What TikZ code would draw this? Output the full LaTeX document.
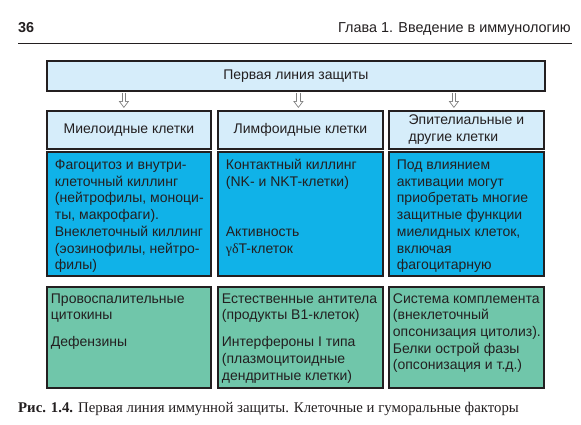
\documentclass[tikz,border=0pt]{standalone}
\usepackage{fontspec}
\setmainfont{Liberation Sans}
\newfontfamily\capfont{Liberation Serif}
\usetikzlibrary{arrows.meta,positioning}
\definecolor{paleblue}{HTML}{D6EDFA}
\definecolor{cellblue}{HTML}{10B2E8}
\definecolor{cellgreen}{HTML}{70C6AA}
\definecolor{inkdark}{HTML}{231F20}
% fixed-size cell, lines set by hand, top aligned
\newcommand{\cellpar}[3]{\parbox[c][#2][t]{#1}{\begin{tabular}[t]{@{}l@{}}#3\end{tabular}}}
\tikzset{
  headbox/.style={
    rectangle,
    draw=inkdark,
    line width=1.8pt,
    fill=paleblue,
    text=inkdark,
    anchor=north west,
    inner sep=0pt,
    font=\fontsize{14}{16.7}\selectfont
  },
  bluecell/.style={
    rectangle,
    draw=inkdark,
    line width=1.8pt,
    fill=cellblue,
    text=inkdark,
    anchor=north west,
    inner xsep=8pt,
    inner ysep=6pt,
    font=\fontsize{14}{16.7}\selectfont
  },
  greencell/.style={
    rectangle,
    draw=inkdark,
    line width=1.8pt,
    fill=cellgreen,
    text=inkdark,
    anchor=north west,
    inner xsep=4pt,
    inner ysep=4.5pt,
    font=\fontsize{14}{16.7}\selectfont
  },
  % hollow arrow: grey body, white inside
  arrowouter/.style={
    draw=black!50,
    line width=4.4pt,
    shorten <=1pt,
    shorten >=2pt,
    -{Triangle[length=7pt, width=10pt]}
  },
  arrowinner/.style={
    draw=white,
    line width=2.8pt,
    shorten <=1.5pt,
    shorten >=3.4pt,
    -{Triangle[length=4.8pt, width=6.9pt]}
  },
  pagehead/.style={
    text=inkdark,
    inner sep=0pt,
    font=\fontsize{14.4}{16}\selectfont
  },
  caption/.style={
    text=inkdark,
    inner sep=0pt,
    anchor=base west,
    font=\capfont\fontsize{14.8}{17}\selectfont
  }
}

\begin{document}
\begin{tikzpicture}[x=1pt, y=-1pt]
  \useasboundingbox (0,0) rectangle (581,424);

  % ------------------------------------------------------------------
  % page header
  % ------------------------------------------------------------------
  \node[pagehead, anchor=base west, font=\bfseries\fontsize{14.4}{16}\selectfont] (pagenum) at (18,32) {36};
  \node[pagehead, anchor=base east] (chapter) at (571,32) {Глава 1. Введение в иммунологию};
  \coordinate (rule-l) at (18,43);
  \coordinate (rule-r) at (572,43);
  \draw[inkdark, line width=1pt] (rule-l) -- (rule-r);

  % ------------------------------------------------------------------
  % top row and cell types
  % ------------------------------------------------------------------
  \node[headbox, minimum width=498pt, minimum height=30pt] (first) at (46,60) {Первая линия защиты};

  \node[headbox, minimum width=164pt, minimum height=38pt] (mye) at (46,110) {Миелоидные клетки};
  \node[headbox, minimum width=165pt, minimum height=38pt] (lym) at (217,110) {Лимфоидные клетки};
  \node[headbox, minimum width=155pt, minimum height=38pt, align=left] (epi) at (388,110) {Эпителиальные и\\другие клетки};

  \foreach \n/\dx in {mye/-5, lym/-2, epi/-12.5} {
    \draw[arrowouter] ([xshift=\dx pt]\n.north |- first.south) -- ([xshift=\dx pt]\n.north);
    \draw[arrowinner] ([xshift=\dx pt]\n.north |- first.south) -- ([xshift=\dx pt]\n.north);
  }

  % ------------------------------------------------------------------
  % cellular factors
  % ------------------------------------------------------------------
  \node[bluecell] (mye-cell) at (46,151) {\cellpar{148pt}{112pt}{%
    Фагоцитоз и внутри-\\клеточный киллинг\\(нейтрофилы, моноци-\\ты, макрофаги).\\
    Внеклеточный киллинг\\(эозинофилы, нейтро-\\филы)}};
  \node[bluecell] (lym-cell) at (217,151) {\cellpar{149pt}{112pt}{%
    Контактный киллинг\\(NK- и NKT-клетки)\\[33.4pt]
    Активность\\{\capfont γδ}T-клеток}};
  \node[bluecell] (epi-cell) at (388,151) {\cellpar{139pt}{112pt}{%
    Под влиянием\\активации могут\\приобретать многие\\защитные функции\\
    миелидных клеток,\\включая\\фагоцитарную}};

  % ------------------------------------------------------------------
  % humoral factors
  % ------------------------------------------------------------------
  \node[greencell] (mye-hum) at (46,286) {\cellpar{156pt}{92pt}{%
    Провоспалительные\\цитокины\\[10.5pt]Дефензины}};
  \node[greencell] (lym-hum) at (217,286) {\cellpar{157pt}{92pt}{%
    Естественные антитела\\(продукты B1-клеток)\\[10.5pt]
    Интерфероны I типа\\(плазмоцитоидные\\дендритные клетки)}};
  \node[greencell] (epi-hum) at (388,286) {\cellpar{147pt}{92pt}{%
    Система комплемента\\(внеклеточный\\опсонизация цитолиз).\\
    Белки острой фазы\\(опсонизация и т.д.)}};

  % caption
  \node[caption] (figcap) at (18,412) {\textbf{Рис. 1.4.} Первая линия иммунной защиты. Клеточные и гуморальные факторы};
\end{tikzpicture}
\end{document}
